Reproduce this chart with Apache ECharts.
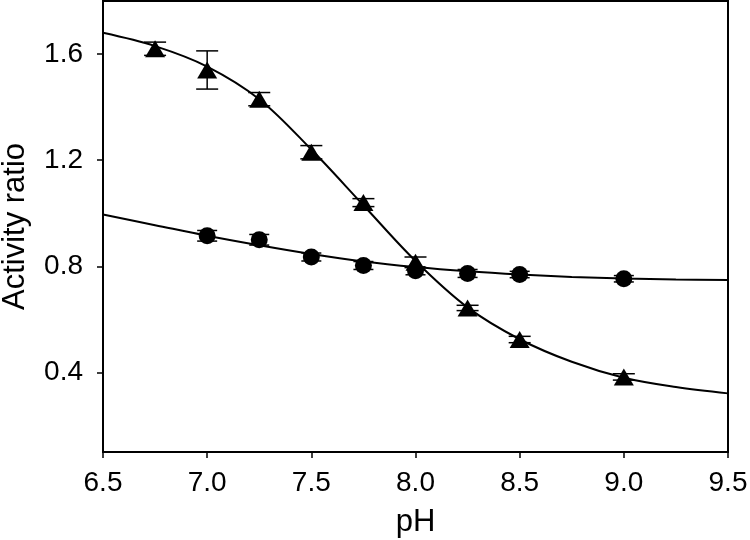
<!DOCTYPE html>
<html>
<head>
<meta charset="utf-8">
<script src="https://cdn.jsdelivr.net/npm/echarts@6/dist/echarts.min.js"></script>
<style>
html,body{margin:0;padding:0;background:#fff}
#chart{width:750px;height:540px}
</style>
</head>
<body>
<div id="chart"></div>
<script>
// measured points (triangles)
var triPh = [6.75, 7.0, 7.25, 7.5, 7.75, 8.0, 8.25, 8.5, 9.0];
var triRatio = [1.62, 1.54, 1.43, 1.23, 1.04, 0.815, 0.643, 0.524, 0.383];
var triErr = [0.025, 0.072, 0.025, 0.025, 0.015, 0.02, 0.01, 0.012, 0.012];

// measured points (circles)
var circPh = [7.0, 7.25, 7.5, 7.75, 8.0, 8.25, 8.5, 9.0];
var circRatio = [0.915, 0.90, 0.835, 0.803, 0.783, 0.773, 0.769, 0.753];
var circErr = [0.02, 0.02, 0.015, 0.015, 0.015, 0.015, 0.012, 0.012];

// fitted curves
var curvePh = [6.5, 6.75, 7.0, 7.25, 7.5, 7.75, 8.0, 8.25, 8.5, 8.75, 9.0, 9.25, 9.5];
var triCurve = [1.68, 1.63, 1.553, 1.43, 1.24, 1.03, 0.82, 0.645, 0.525, 0.44, 0.38, 0.345, 0.321];
var circCurve = [0.995, 0.955, 0.915, 0.879, 0.846, 0.818, 0.797, 0.781, 0.769, 0.76, 0.754, 0.75, 0.748];

var yTicks = [0.4, 0.8, 1.2, 1.6];

var font = "'Liberation Sans', Arial, sans-serif";

function pairs(xs, ys) {
	return xs.map(function (x, i) { return [x, ys[i]]; });
}

function errorBars(xs, ys, es, capHalf) {
	return {
		type: 'custom',
		z: 4,
		silent: true,
		encode: { x: 0, y: [1, 2] },
		data: xs.map(function (x, i) { return [x, ys[i] - es[i], ys[i] + es[i]]; }),
		renderItem: function (params, api) {
			var lo = api.coord([api.value(0), api.value(1)]);
			var hi = api.coord([api.value(0), api.value(2)]);
			var s = { stroke: '#000', lineWidth: 1.5 };
			return {
				type: 'group',
				children: [
					{ type: 'line', shape: { x1: lo[0], y1: lo[1], x2: hi[0], y2: hi[1] }, style: s },
					{ type: 'line', shape: { x1: lo[0] - capHalf, y1: lo[1], x2: lo[0] + capHalf, y2: lo[1] }, style: s },
					{ type: 'line', shape: { x1: hi[0] - capHalf, y1: hi[1], x2: hi[0] + capHalf, y2: hi[1] }, style: s }
				]
			};
		}
	};
}

var chart = echarts.init(document.getElementById('chart'));
chart.setOption({
	animation: false,
	backgroundColor: '#fff',
	grid: {
		left: 103,
		right: 22,
		top: 1,
		bottom: 88,
		outerBoundsMode: 'none',
		containLabel: false,
		show: true,
		borderColor: '#000',
		borderWidth: 2
	},
	xAxis: {
		type: 'value',
		min: 6.5,
		max: 9.5,
		interval: 0.5,
		name: 'pH',
		nameLocation: 'middle',
		nameGap: 55,
		nameTextStyle: { color: '#000', fontSize: 31, fontFamily: font },
		splitLine: { show: false },
		axisLine: { onZero: false, lineStyle: { color: '#000', width: 2 } },
		axisTick: { inside: false, length: 6, lineStyle: { color: '#000', width: 1.5 } },
		axisLabel: {
			margin: 17,
			color: '#000',
			fontSize: 28,
			fontFamily: font,
			formatter: function (v) { return v.toFixed(1); }
		}
	},
	yAxis: {
		type: 'value',
		min: 0.1,
		max: 1.8,
		name: 'Activity ratio',
		nameLocation: 'middle',
		nameGap: 72,
		nameTextStyle: { color: '#000', fontSize: 31, fontFamily: font },
		splitLine: { show: false },
		axisLine: { onZero: false, lineStyle: { color: '#000', width: 2 } },
		axisTick: { customValues: yTicks, length: 6, lineStyle: { color: '#000', width: 1.5 } },
		axisLabel: {
			customValues: yTicks,
			margin: 20,
			color: '#000',
			fontSize: 28,
			fontFamily: font,
			formatter: function (v) { return v.toFixed(1); }
		}
	},
	series: [
		{
			type: 'line',
			data: pairs(curvePh, triCurve),
			showSymbol: false,
			smooth: 0.35,
			lineStyle: { color: '#000', width: 2 },
			z: 2
		},
		{
			type: 'line',
			data: pairs(curvePh, circCurve),
			showSymbol: false,
			smooth: 0.35,
			lineStyle: { color: '#000', width: 2 },
			z: 2
		},
		errorBars(triPh, triRatio, triErr, 11),
		errorBars(circPh, circRatio, circErr, 10),
		{
			type: 'scatter',
			data: pairs(triPh, triRatio),
			symbol: 'triangle',
			symbolSize: [20, 17],
			itemStyle: { color: '#000', opacity: 1 },
			z: 3
		},
		{
			type: 'scatter',
			data: pairs(circPh, circRatio),
			symbol: 'circle',
			symbolSize: 17,
			itemStyle: { color: '#000', opacity: 1 },
			z: 3
		}
	]
});
</script>
</body>
</html>
